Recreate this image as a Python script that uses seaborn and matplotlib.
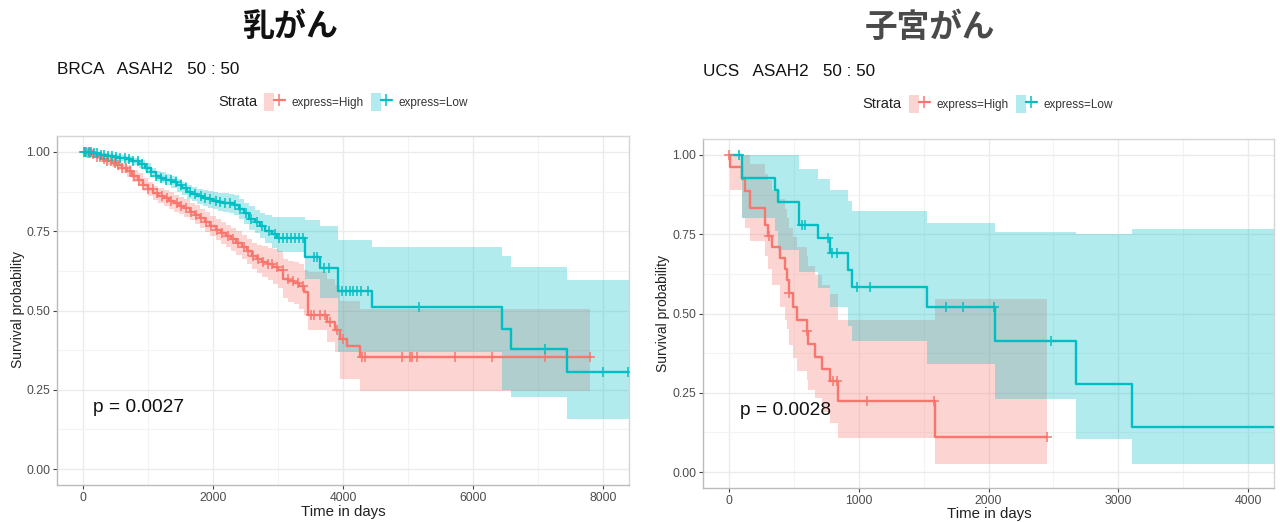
import numpy as np
import matplotlib
matplotlib.use("Agg")
import matplotlib.pyplot as plt
from matplotlib.patches import Patch
from matplotlib.lines import Line2D
from matplotlib.legend_handler import HandlerTuple
from matplotlib.ticker import MultipleLocator, FormatStrFormatter
import seaborn as sns

# ---------------- BRCA (breast cancer) ----------------
brca_high_time = [0, 60, 120, 200, 280, 360, 440, 520, 600, 680, 760, 840, 920, 1000, 1080,
                  1160, 1240, 1320, 1400, 1480, 1560, 1640, 1720, 1800, 1880, 1960, 2040, 2120,
                  2200, 2280, 2360, 2440, 2520, 2600, 2680, 2760, 2840, 2920, 3000, 3080, 3160,
                  3240, 3320, 3400, 3460, 3754, 3877, 3954, 4060, 4260, 7800]
brca_high_surv = [1.000, 0.997, 0.992, 0.985, 0.978, 0.970, 0.965, 0.958, 0.950, 0.940, 0.925,
                  0.912, 0.897, 0.882, 0.870, 0.862, 0.854, 0.846, 0.838, 0.830, 0.822, 0.812,
                  0.802, 0.790, 0.778, 0.766, 0.754, 0.744, 0.734, 0.724, 0.712, 0.700, 0.686,
                  0.672, 0.662, 0.654, 0.646, 0.638, 0.628, 0.600, 0.592, 0.586, 0.576, 0.557,
                  0.487, 0.465, 0.440, 0.409, 0.387, 0.352, 0.352]
brca_high_lower = [1.000, 0.994, 0.987, 0.978, 0.969, 0.959, 0.952, 0.943, 0.934, 0.922, 0.906,
                   0.892, 0.876, 0.860, 0.847, 0.838, 0.829, 0.820, 0.812, 0.803, 0.794, 0.784,
                   0.773, 0.760, 0.747, 0.734, 0.721, 0.710, 0.699, 0.688, 0.675, 0.662, 0.646,
                   0.630, 0.617, 0.606, 0.595, 0.583, 0.570, 0.539, 0.528, 0.519, 0.506, 0.485,
                   0.440, 0.400, 0.370, 0.283, 0.283, 0.245, 0.245]
brca_high_upper = [1.000, 1.000, 0.997, 0.992, 0.987, 0.981, 0.978, 0.973, 0.966, 0.958, 0.944,
                   0.932, 0.918, 0.904, 0.893, 0.886, 0.879, 0.872, 0.864, 0.857, 0.850, 0.840,
                   0.831, 0.820, 0.809, 0.798, 0.787, 0.778, 0.769, 0.760, 0.749, 0.738, 0.726,
                   0.714, 0.707, 0.702, 0.697, 0.693, 0.686, 0.661, 0.656, 0.653, 0.646, 0.629,
                   0.620, 0.600, 0.580, 0.530, 0.530, 0.506, 0.506]
brca_high_censor = [30, 70, 110, 150, 210, 260, 320, 370, 430, 490, 540, 600, 660, 720, 790,
                    860, 930, 1000, 1070, 1140, 1210, 1290, 1360, 1440, 1510, 1590, 1660, 1740,
                    1810, 1890, 1970, 2060, 2140, 2230, 2310, 2390, 2470, 2540, 2610, 2690, 2770,
                    2840, 2910, 2990, 3070, 3150, 3230, 3300, 3380, 3500, 3560, 3640, 3720, 3800,
                    3900, 4000, 4288, 4338, 4903, 5031, 5056, 5133, 5723, 6287, 7108, 7800]

brca_low_time = [0, 80, 160, 260, 360, 460, 560, 660, 760, 860, 960, 1040, 1120, 1200, 1280,
                 1360, 1440, 1520, 1600, 1680, 1760, 1840, 1920, 2000, 2080, 2160, 2240, 2320,
                 2400, 2480, 2560, 2640, 2720, 2800, 2900, 2980, 3415, 3646, 3923, 4446, 6446,
                 6585, 7446, 8400]
brca_low_surv = [1.000, 0.998, 0.995, 0.990, 0.987, 0.983, 0.980, 0.976, 0.970, 0.962, 0.950,
                 0.935, 0.925, 0.918, 0.912, 0.905, 0.895, 0.885, 0.875, 0.867, 0.860, 0.855,
                 0.850, 0.846, 0.842, 0.840, 0.838, 0.832, 0.820, 0.806, 0.788, 0.778, 0.766,
                 0.752, 0.740, 0.730, 0.670, 0.635, 0.560, 0.510, 0.443, 0.380, 0.305, 0.305]
brca_low_lower = [1.000, 0.996, 0.991, 0.984, 0.979, 0.974, 0.970, 0.965, 0.958, 0.949, 0.936,
                  0.920, 0.909, 0.901, 0.894, 0.886, 0.875, 0.864, 0.853, 0.844, 0.836, 0.830,
                  0.824, 0.819, 0.814, 0.811, 0.808, 0.801, 0.788, 0.773, 0.754, 0.743, 0.729,
                  0.713, 0.698, 0.685, 0.600, 0.540, 0.368, 0.368, 0.250, 0.226, 0.157, 0.157]
brca_low_upper = [1.000, 1.000, 0.999, 0.996, 0.995, 0.992, 0.990, 0.987, 0.982, 0.975, 0.964,
                  0.950, 0.941, 0.935, 0.930, 0.924, 0.915, 0.906, 0.897, 0.890, 0.884, 0.880,
                  0.876, 0.873, 0.870, 0.869, 0.868, 0.863, 0.852, 0.840, 0.828, 0.818, 0.808,
                  0.800, 0.796, 0.796, 0.786, 0.765, 0.723, 0.700, 0.673, 0.638, 0.597, 0.597]
brca_low_censor = [20, 50, 90, 130, 170, 220, 270, 330, 390, 450, 510, 570, 640, 700, 770, 840,
                   910, 980, 1050, 1130, 1200, 1280, 1350, 1430, 1500, 1580, 1650, 1730, 1810,
                   1880, 1960, 2040, 2110, 2190, 2260, 2340, 2420, 2500, 2580, 2670, 2760, 2860,
                   2950, 3020, 3080, 3140, 3200, 3260, 3320, 3380, 3560, 3600, 3700, 3780, 3985,
                   4040, 4100, 4160, 4220, 4280, 4380, 5170, 7108, 8000, 8390]

# ---------------- UCS (uterine cancer) ----------------
ucs_high_time = [0, 8, 100, 125, 160, 275, 300, 330, 390, 430, 445, 460, 490, 525, 600, 610,
                 665, 715, 780, 838, 1585, 2454]
ucs_high_surv = [1.000, 0.962, 0.923, 0.885, 0.833, 0.780, 0.745, 0.710, 0.675, 0.640, 0.605,
                 0.566, 0.522, 0.481, 0.444, 0.403, 0.362, 0.324, 0.286, 0.224, 0.112, 0.112]
ucs_high_lower = [1.000, 0.890, 0.800, 0.770, 0.730, 0.680, 0.640, 0.590, 0.520, 0.480, 0.450,
                  0.400, 0.360, 0.320, 0.290, 0.260, 0.235, 0.190, 0.155, 0.108, 0.025, 0.025]
ucs_high_upper = [1.000, 1.000, 1.000, 1.000, 0.970, 0.940, 0.920, 0.890, 0.860, 0.830, 0.800,
                  0.770, 0.740, 0.710, 0.680, 0.650, 0.620, 0.590, 0.560, 0.480, 0.547, 0.547]
ucs_high_censor = [0, 305, 462, 603, 800, 830, 1062, 1577, 2454]

ucs_low_time = [0, 100, 354, 377, 538, 685, 777, 915, 946, 1523, 2050, 2677, 3108, 4200]
ucs_low_surv = [1.000, 0.926, 0.890, 0.850, 0.780, 0.739, 0.692, 0.638, 0.582, 0.519, 0.412,
                0.277, 0.141, 0.141]
ucs_low_lower = [1.000, 0.800, 0.760, 0.700, 0.630, 0.580, 0.520, 0.460, 0.412, 0.340, 0.230,
                 0.104, 0.025, 0.025]
ucs_low_upper = [1.000, 1.000, 1.000, 1.000, 0.955, 0.925, 0.890, 0.855, 0.824, 0.786, 0.758,
                 0.752, 0.767, 0.767]
ucs_low_censor = [77, 562, 585, 760, 792, 831, 985, 1085, 1669, 1800, 2046, 2485]

strata_labels = ["express=High", "express=Low"]
panel_titles = ["乳がん", "子宮がん"]
panel_subtitles = ["BRCA   ASAH2   50 : 50", "UCS   ASAH2   50 : 50"]
p_values = ["p = 0.0027", "p = 0.0028"]

HIGH = "#F8766D"
LOW = "#00BFC4"

sns.set_theme(style="white")
plt.rcParams["font.family"] = ["Liberation Sans", "Noto Sans CJK JP", "DejaVu Sans"]

W, H = 1280, 522
fig = plt.figure(figsize=(W / 100, H / 100), dpi=100)


def px_axes(x0, y0, x1, y1):
    return fig.add_axes([x0 / W, 1 - y1 / H, (x1 - x0) / W, (y1 - y0) / H])


def draw_km(ax, curves):
    for t, s, lo, hi, cens, col in curves:
        ax.fill_between(t, lo, hi, step="post", color=col, alpha=0.3, lw=0, zorder=2)
    for t, s, lo, hi, cens, col in curves:
        sns.lineplot(x=t, y=s, drawstyle="steps-post", color=col, lw=1.7,
                     estimator=None, sort=False, ax=ax, zorder=3)
        c = np.asarray(cens, dtype=float)
        idx = np.searchsorted(np.asarray(t), c, side="right") - 1
        sns.scatterplot(x=c, y=np.asarray(s)[idx], marker="+", s=46, color=col,
                        linewidth=1.1, ax=ax, zorder=4, legend=False)


def style_axes(ax, xlim, xmajor):
    ax.set_xlim(*xlim)
    ax.set_ylim(-0.05, 1.05)
    ax.xaxis.set_major_locator(MultipleLocator(xmajor))
    ax.xaxis.set_minor_locator(MultipleLocator(xmajor / 2))
    ax.yaxis.set_major_locator(MultipleLocator(0.25))
    ax.yaxis.set_minor_locator(MultipleLocator(0.125))
    ax.yaxis.set_major_formatter(FormatStrFormatter("%.2f"))
    ax.grid(which="major", color="#EBEBEB", lw=1.0)
    ax.grid(which="minor", color="#F3F3F3", lw=0.8)
    ax.set_axisbelow(True)
    for sp in ax.spines.values():
        sp.set_color("#D5D5D5")
        sp.set_linewidth(1.0)
    ax.spines["left"].set_color("#BBBBBB")
    ax.spines["bottom"].set_color("#BBBBBB")
    ax.tick_params(which="major", direction="out", length=3, width=0.8, color="#444444",
                   labelsize=8.8, labelcolor="#4D4D4D", pad=2, left=True, bottom=True)
    ax.tick_params(which="minor", length=0)
    ax.set_xlabel("")
    ax.set_ylabel("")


# left panel
ax1 = px_axes(57, 136, 629, 485)
draw_km(ax1, [
    (brca_high_time, brca_high_surv, brca_high_lower, brca_high_upper, brca_high_censor, HIGH),
    (brca_low_time, brca_low_surv, brca_low_lower, brca_low_upper, brca_low_censor, LOW),
])
style_axes(ax1, (-400, 8400), 2000)
ax1.text(150, 0.195, p_values[0], fontsize=13.8, color="#111111", va="center", ha="left")

# right panel
ax2 = px_axes(703, 139, 1274, 488)
draw_km(ax2, [
    (ucs_high_time, ucs_high_surv, ucs_high_lower, ucs_high_upper, ucs_high_censor, HIGH),
    (ucs_low_time, ucs_low_surv, ucs_low_lower, ucs_low_upper, ucs_low_censor, LOW),
])
style_axes(ax2, (-200, 4200), 1000)
ax2.text(85, 0.195, p_values[1], fontsize=13.8, color="#111111", va="center", ha="left")


def ftext(x, y, s, **kw):
    fig.text(x / W, 1 - y / H, s, **kw)


# titles, subtitles and axis labels for both panels
ftext(290, 27, panel_titles[0], fontsize=23, fontweight="bold", color="#111111",
      ha="center", va="center", family=["Noto Sans CJK JP"])
ftext(930, 27, panel_titles[1], fontsize=23.5, fontweight="bold", color="#4A4A4A",
      ha="center", va="center", family=["Noto Sans CJK JP"])
ftext(57, 70, panel_subtitles[0], fontsize=12.3, color="#111111", ha="left", va="center")
ftext(703, 72, panel_subtitles[1], fontsize=12.3, color="#111111", ha="left", va="center")

ftext(343, 512, "Time in days", fontsize=10.8, color="#222222", ha="center", va="center")
ftext(989, 514, "Time in days", fontsize=10.8, color="#222222", ha="center", va="center")
ftext(18, 310, "Survival probability", fontsize=10, color="#222222", ha="center",
      va="center", rotation=90)
ftext(663, 313, "Survival probability", fontsize=10, color="#222222", ha="center",
      va="center", rotation=90)


def legend_handles():
    hs = []
    for col in (HIGH, LOW):
        hs.append((Patch(facecolor=col, alpha=0.3, edgecolor="none"),
                   Line2D([], [], color=col, lw=1.6, marker="+", markersize=8,
                          markeredgewidth=1.1)))
    return hs


for (sx, sy, lx) in [(218, 102, 264), (862, 104, 909)]:
    ftext(sx, sy, "Strata", fontsize=10.5, color="#222222", ha="left", va="center")
    leg = fig.legend(legend_handles(), strata_labels, ncol=2, frameon=False,
                     loc="center left", bbox_to_anchor=(lx / W, 1 - sy / H),
                     handler_map={tuple: HandlerTuple(ndivide=None, pad=0)},
                     fontsize=8.5, handlelength=1.75, handleheight=1.9, handletextpad=0.55,
                     columnspacing=0.65, borderaxespad=0, borderpad=0)
    for txt in leg.get_texts():
        txt.set_color("#333333")

fig.savefig("out.png", dpi=100, facecolor="white")
